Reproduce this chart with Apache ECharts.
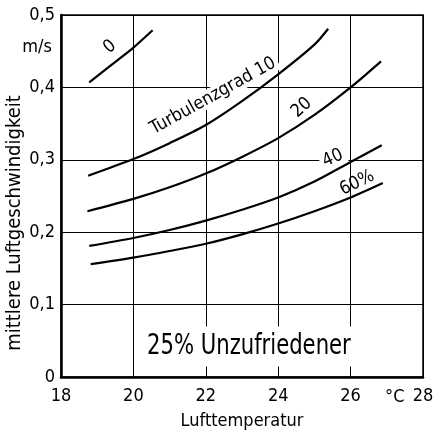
<!DOCTYPE html>
<html><head><meta charset="utf-8">
<script src="https://cdn.jsdelivr.net/npm/echarts@6/dist/echarts.min.js"></script>
<style>html,body{margin:0;padding:0;background:#fff}#c{width:433px;height:433px}</style>
</head><body><div id="c"></div>
<script>
// Data
const xTicks = [18, 20, 22, 24, 26, 28];
const yTicks = ['0', '0,1', '0,2', '0,3', '0,4', '0,5'];
const curve0  = [[18.78,0.407],[19.6,0.439],[20,0.455],[20.53,0.479]];
const curve10 = [[18.75,0.278],[20,0.301],[21,0.323],[22,0.348],[23,0.381],[24,0.418],[25,0.459],[25.38,0.481]];
const curve20 = [[18.73,0.229],[20,0.246],[21,0.262],[22,0.281],[23,0.304],[24,0.330],[25,0.362],[26,0.400],[26.84,0.436]];
const curve40 = [[18.78,0.181],[20,0.192],[21,0.203],[22,0.216],[23,0.231],[24,0.248],[25,0.270],[26,0.297],[26.86,0.320]];
const curve60 = [[18.82,0.156],[20,0.165],[21,0.174],[22,0.184],[23,0.197],[24,0.212],[25,0.229],[26,0.248],[26.89,0.268]];
const curveNames = ['0', '10', '20', '40', '60'];
const curveLabels = ['0', 'Turbulenzgrad 10', '20', '40', '60%'];
const note = '25% Unzufriedener';
const xName = 'Lufttemperatur';
const yName = 'mittlere Luftgeschwindigkeit';
const yUnit = 'm/s';
const xUnit = '°C';

const FONT = '"Liberation Sans Narrow","DejaVu Sans Condensed","Roboto Condensed","Liberation Sans",sans-serif';
const chart = echarts.init(document.getElementById('c'), null, {renderer:'canvas'});
const lineStyle = {color:'#000', width:2.2};
const mk = (name, data) => ({name, type:'line', data, smooth:0.3, symbol:'none', lineStyle, z:5, silent:true});
chart.setOption({
  animation:false,
  backgroundColor:'#fff',
  grid:{left:61, right:10, top:15, bottom:56, show:true, borderColor:'#000', borderWidth:1.5,
    backgroundColor:'transparent', containLabel:false, outerBoundsMode:'none'},
  xAxis:{type:'value', min:18, max:28, interval:2,
    name:xName, nameLocation:'middle', nameGap:35,
    nameTextStyle:{fontFamily:FONT, fontSize:18, color:'#000'},
    axisLine:{show:true, onZero:false, lineStyle:{color:'#000', width:2.5}},
    axisTick:{show:false},
    axisLabel:{fontFamily:FONT, fontSize:18, color:'#000', margin:10},
    splitLine:{show:true, lineStyle:{color:'#000', width:1}}},
  yAxis:{type:'value', min:0, max:0.5, interval:0.1,
    name:yName, nameLocation:'middle', nameGap:36, nameMoveOverlap:false,
    nameTextStyle:{fontFamily:FONT, fontSize:20, color:'#000', padding:[0,54,0,0]},
    axisLine:{show:true, onZero:false, lineStyle:{color:'#000', width:2.5}},
    axisTick:{show:false},
    axisLabel:{fontFamily:FONT, fontSize:18, color:'#000', margin:6,
      formatter:(v)=>yTicks[Math.round(v*10)]},
    splitLine:{show:true, lineStyle:{color:'#000', width:1}}},
  series:[mk(curveNames[0],curve0), mk(curveNames[1],curve10), mk(curveNames[2],curve20), mk(curveNames[3],curve40), mk(curveNames[4],curve60)]
});
// annotation anchors (data coords) and rotations (deg)
const ann = [
  {t:curveLabels[0], at:[19.35,0.456], rot:40, size:18, sx:1, bg:false},
  {t:curveLabels[1], at:[22.2,0.388], rot:29, size:18, sx:1, bg:true},
  {t:curveLabels[2], at:[24.65,0.372], rot:42, size:18, sx:1, bg:false},
  {t:curveLabels[3], at:[25.51,0.302], rot:24, size:18, sx:1, bg:true},
  {t:curveLabels[4], at:[26.18,0.268], rot:26, size:18, sx:1, bg:false},
  {t:note, at:[23.19,0.042], rot:0, size:28, sx:0.84, bg:true}
];
const g = ann.map(a => {
  const p = chart.convertToPixel({gridIndex:0}, a.at);
  return {type:'text', x:p[0], y:p[1], rotation:a.rot*Math.PI/180, scaleX:a.sx, z:10,
    style:{text:a.t, fill:'#000', font:a.size+'px '+FONT, align:'center', verticalAlign:'middle',
      backgroundColor:a.bg?'#fff':null, padding:a.bg?(a.size>20?[6,8]:[0,3]):0}};
});
const pc = chart.convertToPixel({gridIndex:0}, [27, 0]);
g.push({type:'text', x:pc[0]+8, y:pc[1]+20, z:10, style:{text:xUnit, fill:'#000', font:'18px '+FONT, align:'center', verticalAlign:'middle'}});
const pm = chart.convertToPixel({gridIndex:0}, [18, 0.456]);
g.push({type:'text', x:pm[0]-24, y:pm[1], z:10, style:{text:yUnit, fill:'#000', font:'18px '+FONT, align:'center', verticalAlign:'middle'}});
chart.setOption({graphic:g});
</script></body></html>
